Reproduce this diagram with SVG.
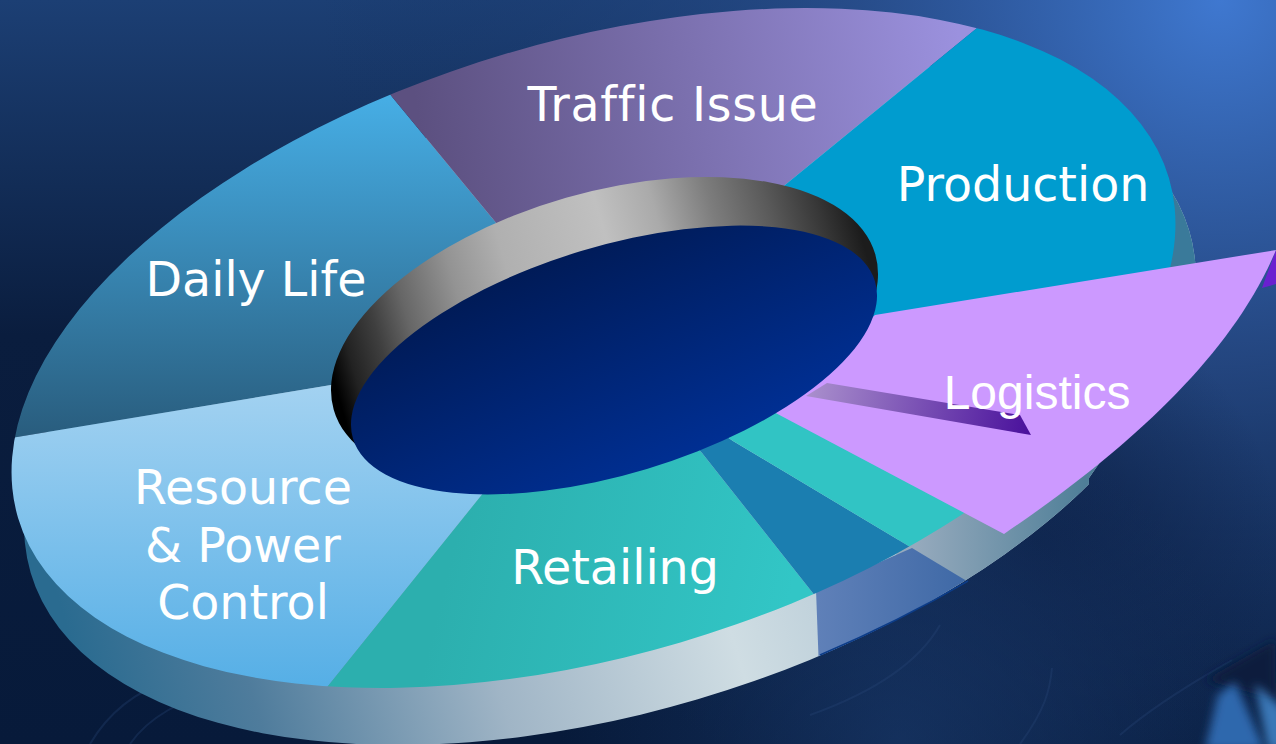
<svg xmlns="http://www.w3.org/2000/svg" width="1276" height="744" viewBox="0 0 1276 744">
<style>
.lbl{font-family:"DejaVu Sans",Verdana,sans-serif;font-size:47.5px;fill:#fff;text-anchor:middle;font-variant-ligatures:none}
.lg{font-family:"Liberation Sans",Arial,sans-serif;font-size:48px;fill:#fff;text-anchor:middle}
.tex{fill:none;stroke:#2c4a7c;stroke-width:2;opacity:.3}
</style>
<defs>
<linearGradient id="bg" x1="0" y1="0" x2="0" y2="1"><stop offset="0" stop-color="#1c3f74"/><stop offset=".45" stop-color="#0a1d3e"/><stop offset="1" stop-color="#071a3a"/></linearGradient>
<radialGradient id="glow" gradientUnits="userSpaceOnUse" cx="1220" cy="0" r="900"><stop offset="0" stop-color="#3f78d0"/><stop offset=".4" stop-color="#2a5090" stop-opacity=".8"/><stop offset="1" stop-color="#123060" stop-opacity="0"/></radialGradient>
<radialGradient id="dark" gradientUnits="userSpaceOnUse" cx="1040" cy="540" r="240"><stop offset="0" stop-color="#0c2046" stop-opacity=".8"/><stop offset="1" stop-color="#0c2046" stop-opacity="0"/></radialGradient>
<radialGradient id="earth" gradientUnits="userSpaceOnUse" cx="900" cy="740" r="340"><stop offset="0" stop-color="#1a3a6c" stop-opacity=".65"/><stop offset="1" stop-color="#1a3a6c" stop-opacity="0"/></radialGradient>
<filter id="soft" x="-30%" y="-30%" width="160%" height="160%"><feGaussianBlur stdDeviation="5"/></filter>
<linearGradient id="side" gradientUnits="userSpaceOnUse" x1="25" y1="0" x2="820" y2="0"><stop offset="0" stop-color="#2a6b90"/><stop offset=".2" stop-color="#4f7c9c"/><stop offset=".5" stop-color="#a0b5c6"/><stop offset=".8" stop-color="#cfdde3"/><stop offset="1" stop-color="#b6cad6"/></linearGradient>
<linearGradient id="slate" gradientUnits="userSpaceOnUse" x1="819" y1="0" x2="965" y2="0"><stop offset="0" stop-color="#5f80b8"/><stop offset="1" stop-color="#3f69a6"/></linearGradient>
<linearGradient id="grey" gradientUnits="userSpaceOnUse" x1="915" y1="0" x2="1085" y2="0"><stop offset="0" stop-color="#96aabd"/><stop offset="1" stop-color="#4f7f98"/></linearGradient>
<linearGradient id="daily" gradientUnits="userSpaceOnUse" x1="0" y1="100" x2="0" y2="435"><stop offset="0" stop-color="#46ade4"/><stop offset="1" stop-color="#295d7e"/></linearGradient>
<linearGradient id="traffic" gradientUnits="userSpaceOnUse" x1="420" y1="130" x2="960" y2="40"><stop offset="0" stop-color="#5c5080"/><stop offset="1" stop-color="#9b91de"/></linearGradient>
<linearGradient id="res" gradientUnits="userSpaceOnUse" x1="0" y1="385" x2="0" y2="685"><stop offset="0" stop-color="#a3d2f1"/><stop offset="1" stop-color="#56afe6"/></linearGradient>
<linearGradient id="ret" gradientUnits="userSpaceOnUse" x1="450" y1="560" x2="780" y2="640"><stop offset="0" stop-color="#2cafae"/><stop offset="1" stop-color="#32c6c6"/></linearGradient>
<linearGradient id="rim" gradientUnits="userSpaceOnUse" x1="331" y1="0" x2="878" y2="0"><stop offset="0" stop-color="#000"/><stop offset=".04" stop-color="#222"/><stop offset=".1" stop-color="#3f3f3f"/><stop offset=".16" stop-color="#666"/><stop offset=".26" stop-color="#939393"/><stop offset=".36" stop-color="#b0b0b0"/><stop offset=".55" stop-color="#c0c0c0"/><stop offset=".65" stop-color="#aaa"/><stop offset=".75" stop-color="#7d7d7d"/><stop offset=".85" stop-color="#5a5a5a"/><stop offset=".94" stop-color="#363636"/><stop offset="1" stop-color="#1c1c1c"/></linearGradient>
<linearGradient id="hole" gradientUnits="userSpaceOnUse" x1="610" y1="230" x2="650" y2="490"><stop offset="0" stop-color="#001a55"/><stop offset="1" stop-color="#003096"/></linearGradient>
<linearGradient id="wedge" gradientUnits="userSpaceOnUse" x1="810" y1="385" x2="1030" y2="430"><stop offset="0" stop-color="#a98fcc"/><stop offset="1" stop-color="#4a119c"/></linearGradient>
<clipPath id="topClip"><ellipse cx="593.5" cy="348" rx="600" ry="307" transform="rotate(-16.45 593.5 348)"/></clipPath>
<clipPath id="sideClip"><ellipse cx="610" cy="402" rx="604" ry="310" transform="rotate(-16.45 610 402)"/></clipPath>
<clipPath id="sideMask"><path d="M0,0H1276V300L1150,390L1089,478L1085,744H0Z"/></clipPath>
</defs>

<g id="background">
<rect width="1276" height="744" fill="url(#bg)"/>
<rect width="1276" height="744" fill="url(#glow)"/>
<rect width="1276" height="744" fill="url(#dark)"/>
<rect width="1276" height="744" fill="url(#earth)"/>
<path class="tex" d="M810,715C880,690 920,660 940,625"/>
<path class="tex" d="M1020,744C1045,710 1050,690 1052,668"/>
<path class="tex" d="M1120,735C1160,700 1215,670 1232,660"/>
<path class="tex" d="M90,744C110,710 140,690 170,680"/>
<path class="tex" d="M130,744C150,715 185,700 205,695"/>
<path d="M1275,640L1205,680L1276,700Z" fill="#0a1b3c" filter="url(#soft)"/>
<path d="M1205,750L1218,695L1235,682L1265,750Z" fill="#2f68ad" filter="url(#soft)"/>
<path d="M1255,684L1285,710V750H1268Z" fill="#3a78b8" filter="url(#soft)"/>
</g>

<g id="under-tip"><path d="M1276,250L1262,288L1276,284Z" fill="#6a20d0"/></g>

<g id="disc-side" clip-path="url(#sideMask)">
<ellipse cx="610" cy="402" rx="604" ry="310" transform="rotate(-16.45 610 402)" fill="url(#side)"/>
<g clip-path="url(#sideClip)">
<path d="M900,530L880,660L1250,480V300L1000,500Z" fill="url(#grey)"/>
<path d="M816,590L819,670L1000,601L912,548Z" fill="url(#slate)"/>
<path d="M1100,0H1276V270H1100Z" fill="#3a7a9a"/>
</g>
<path d="M820,655Q900,621 968,581" fill="none" stroke="#0c3c88" stroke-width="1.5"/>
</g>

<g id="slices" clip-path="url(#topClip)">
<g id="daily-life"><path d="M-20,443L331,385L600,349L497,224L393,98L300,-20H-20Z" fill="url(#daily)"/></g>
<g id="traffic-issue"><path d="M393,98L300,-20H977V28L785,185L600,349L497,224Z" fill="url(#traffic)"/></g>
<g id="production"><path d="M977,28V-20H1276V262L875,330L600,349L785,185Z" fill="#009ccf"/></g>
<g id="resource"><path d="M-20,443L331,385L600,349L480,497L328,686L280,740H-20Z" fill="url(#res)"/></g>
<g id="retailing"><path d="M480,497L600,349L702,453L816,597L860,652V740H280L328,686Z" fill="url(#ret)"/></g>
<g id="strip-blue"><path d="M702,453L600,349L733,441L912,548L990,595L860,652L816,597Z" fill="#1b7eb0"/></g>
<g id="strip-cyan"><path d="M733,441L600,349L800,380L1010,480L1040,556L990,595L912,548Z" fill="#31c4c4"/></g>
</g>

<g id="logistics">
<path d="M875,315L1276,250C1230,360 1120,455 1004,534L770,410Z" fill="#cc99ff"/>
<path d="M827,383L1020,415L1031,435L806,396Z" fill="url(#wedge)"/>
</g>

<g id="hub">
<ellipse cx="604.5" cy="332" rx="281.7" ry="139.6" transform="rotate(-16 604.5 332)" fill="url(#rim)"/>
<ellipse cx="614" cy="360" rx="272.6" ry="113.8" transform="rotate(-16.8 614 360)" fill="url(#hole)"/>
</g>

<g id="labels">
<text class="lbl" x="673" y="121" letter-spacing=".75">Traffic Issue</text>
<text class="lbl" x="1023" y="201">Production</text>
<text class="lbl" x="256" y="296">Daily Life</text>
<text class="lbl" x="243" y="504">Resource</text>
<text class="lbl" x="243" y="562">&amp; Power</text>
<text class="lbl" x="243" y="619">Control</text>
<text class="lbl" x="615" y="584">Retailing</text>
<text class="lg" x="1037" y="409">Logistics</text>
</g>
</svg>
